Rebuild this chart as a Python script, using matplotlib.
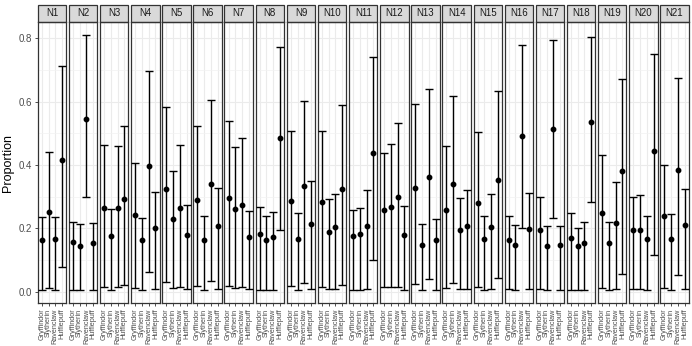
import matplotlib
matplotlib.use("Agg")
import matplotlib.pyplot as plt
from matplotlib.patches import Rectangle
import numpy as np

houses = ["Gryffindor", "Slytherin", "Ravenclaw", "Hufflepuff"]
panels = ["N%d" % i for i in range(1, 22)]

# point estimate per panel, in house order
prop = [
    [0.163, 0.253, 0.165, 0.416],
    [0.156, 0.145, 0.544, 0.153],
    [0.265, 0.177, 0.265, 0.292],
    [0.241, 0.162, 0.397, 0.201],
    [0.325, 0.228, 0.265, 0.180],
    [0.289, 0.163, 0.339, 0.207],
    [0.297, 0.260, 0.273, 0.171],
    [0.181, 0.162, 0.171, 0.485],
    [0.286, 0.166, 0.334, 0.214],
    [0.282, 0.189, 0.205, 0.323],
    [0.175, 0.182, 0.206, 0.438],
    [0.258, 0.266, 0.298, 0.178],
    [0.328, 0.148, 0.361, 0.163],
    [0.258, 0.341, 0.196, 0.206],
    [0.281, 0.165, 0.203, 0.353],
    [0.164, 0.148, 0.492, 0.198],
    [0.195, 0.145, 0.515, 0.146],
    [0.168, 0.144, 0.154, 0.535],
    [0.249, 0.155, 0.217, 0.381],
    [0.195, 0.194, 0.166, 0.445],
    [0.239, 0.166, 0.385, 0.209],
]

lower = [
    [0.005, 0.010, 0.005, 0.079],
    [0.005, 0.005, 0.300, 0.006],
    [0.014, 0.005, 0.014, 0.021],
    [0.012, 0.005, 0.063, 0.007],
    [0.029, 0.012, 0.013, 0.007],
    [0.017, 0.005, 0.034, 0.007],
    [0.018, 0.012, 0.014, 0.007],
    [0.005, 0.005, 0.005, 0.194],
    [0.019, 0.005, 0.028, 0.007],
    [0.016, 0.007, 0.009, 0.022],
    [0.005, 0.005, 0.007, 0.100],
    [0.014, 0.015, 0.016, 0.005],
    [0.024, 0.005, 0.041, 0.005],
    [0.011, 0.028, 0.007, 0.007],
    [0.016, 0.005, 0.009, 0.042],
    [0.007, 0.005, 0.200, 0.007],
    [0.007, 0.005, 0.234, 0.005],
    [0.005, 0.005, 0.005, 0.284],
    [0.012, 0.006, 0.009, 0.055],
    [0.007, 0.007, 0.005, 0.117],
    [0.012, 0.005, 0.052, 0.008],
]

upper = [
    [0.237, 0.442, 0.237, 0.714],
    [0.220, 0.214, 0.812, 0.218],
    [0.462, 0.262, 0.459, 0.523],
    [0.405, 0.233, 0.697, 0.316],
    [0.582, 0.382, 0.463, 0.274],
    [0.523, 0.240, 0.605, 0.328],
    [0.538, 0.458, 0.487, 0.255],
    [0.268, 0.239, 0.252, 0.774],
    [0.507, 0.247, 0.603, 0.349],
    [0.509, 0.293, 0.309, 0.591],
    [0.259, 0.263, 0.322, 0.741],
    [0.439, 0.468, 0.534, 0.271],
    [0.593, 0.215, 0.641, 0.228],
    [0.459, 0.618, 0.296, 0.322],
    [0.504, 0.240, 0.309, 0.635],
    [0.240, 0.209, 0.778, 0.311],
    [0.299, 0.208, 0.794, 0.208],
    [0.247, 0.202, 0.221, 0.805],
    [0.432, 0.220, 0.347, 0.672],
    [0.300, 0.305, 0.240, 0.752],
    [0.401, 0.244, 0.676, 0.324],
]

plt.rcParams['font.family'] = ['Liberation Sans', 'DejaVu Sans']

W, H = 692, 346
fig, axes = plt.subplots(1, len(panels), sharey=True, figsize=(W / 100, H / 100), dpi=100)
fig.subplots_adjust(left=37.7 / W, right=688.7 / W, bottom=(H - 303) / H,
                    top=(H - 22) / H, wspace=0.095)

x = np.arange(1, 5)
for i, ax in enumerate(axes):
    p = np.array(prop[i])
    lo = np.array(lower[i])
    hi = np.array(upper[i])
    ax.errorbar(x, p, yerr=[p - lo, hi - p], fmt='o', color='black', ms=3.2,
                elinewidth=1.0, capsize=2.6, capthick=1.0, zorder=3)

    ax.set_xlim(0.4, 4.6)
    ax.set_ylim(-0.036, 0.852)
    ax.set_xticks(x)
    ax.set_xticklabels(houses, rotation=90, ha='center', va='top',
                       fontsize=5.2, color='#4D4D4D')
    ax.set_yticks([0.0, 0.2, 0.4, 0.6, 0.8])
    ax.set_yticks([0.1, 0.3, 0.5, 0.7], minor=True)
    ax.set_yticklabels(["0.0", "0.2", "0.4", "0.6", "0.8"])
    ax.tick_params(axis='both', which='major', length=2.5, width=0.6,
                   color='#333333', pad=1.5, labelsize=7, labelcolor='#4D4D4D')
    ax.tick_params(axis='x', labelsize=5.2)
    ax.tick_params(axis='y', which='minor', length=0)
    if i > 0:
        ax.tick_params(axis='y', which='both', left=False)

    ax.grid(True, which='major', color='#EBEBEB', lw=0.8, zorder=0)
    ax.grid(True, which='minor', axis='y', color='#F2F2F2', lw=0.5, zorder=0)
    ax.set_axisbelow(True)
    for s in ax.spines.values():
        s.set_color('#333333')
        s.set_linewidth(0.9)

    # facet strip on top
    strip = Rectangle((0, 1.0), 1, 0.0605, transform=ax.transAxes, clip_on=False,
                      facecolor='#D9D9D9', edgecolor='#333333', lw=0.9)
    ax.add_patch(strip)
    ax.text(0.5, 1.0 + 0.0605 / 2, panels[i], transform=ax.transAxes,
            ha='center', va='center', fontsize=7, color='#1A1A1A')

axes[0].set_ylabel("Proportion", fontsize=9, color='black', labelpad=3)

fig.savefig("out.png", dpi=100)
